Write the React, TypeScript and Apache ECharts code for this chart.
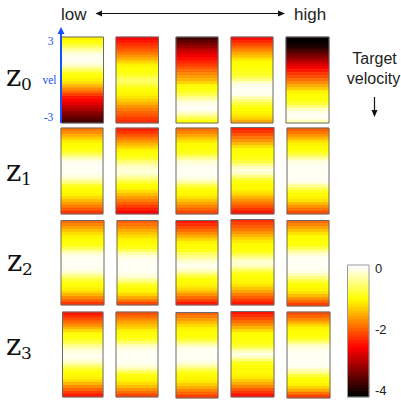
import React, { useEffect, useRef } from "react";
import * as echarts from "echarts";

const velocityLevels = ["3","2.8","2.6","2.4","2.2","2","1.8","1.6","1.4","1.2","1","0.8","0.6","0.4","0.2","0","-0.2","-0.4","-0.6","-0.8","-1","-1.2","-1.4","-1.6","-1.8","-2","-2.3","-2.6","-3"];

const z0p1 = [-1.05,-0.95,-0.8,-0.55,-0.3,-0.08,0.02,0.05,0.02,-0.1,-0.35,-0.65,-0.9,-0.97,-1.05,-1.2,-1.45,-1.7,-1.95,-2.2,-2.45,-2.6,-2.75,-2.95,-3.1,-3.3,-3.45,-3.6,-3.75];
const z0p2 = [-2.6,-2.45,-2.3,-2.15,-2.0,-1.85,-1.65,-1.45,-1.25,-1.05,-0.97,-0.95,-0.9,-0.75,-0.55,-0.6,-0.8,-0.95,-1.0,-1.05,-1.15,-1.3,-1.45,-1.65,-1.8,-1.95,-2.05,-2.2,-2.3];
const z0p3 = [-3.8,-3.6,-3.4,-3.2,-3.0,-2.8,-2.65,-2.5,-2.35,-2.2,-2.05,-1.9,-1.75,-1.6,-1.45,-1.25,-1.0,-0.95,-0.85,-0.65,-0.4,-0.15,0,0.05,0.05,-0.1,-0.35,-0.65,-0.95];
const z0p4 = [-2.55,-2.35,-2.15,-1.95,-1.75,-1.55,-1.35,-1.15,-1.0,-0.97,-0.93,-0.9,-0.85,-0.7,-0.45,-0.12,0.02,0.05,0.05,0.02,-0.2,-0.45,-0.7,-0.9,-0.98,-1.03,-1.1,-1.25,-1.5];
const z0p5 = [-4.15,-4.15,-4.1,-4.0,-3.8,-3.6,-3.4,-3.2,-3.0,-2.8,-2.6,-2.45,-2.25,-2.1,-1.9,-1.7,-1.5,-1.3,-1.05,-1.0,-0.95,-0.9,-0.75,-0.45,-0.15,0,0.05,0.02,-0.2];
const z1p1 = [-1.85,-1.7,-1.5,-1.3,-1.1,-1.0,-0.96,-0.9,-0.72,-0.42,-0.15,0,0.05,0.05,0.05,0.03,-0.05,-0.25,-0.5,-0.78,-0.95,-1.0,-1.05,-1.2,-1.4,-1.6,-1.8,-2.0,-2.25];
const z1p2 = [-2.4,-2.25,-2.05,-1.85,-1.65,-1.45,-1.25,-1.05,-0.97,-0.9,-0.75,-0.5,-0.28,-0.12,-0.05,-0.1,-0.3,-0.55,-0.8,-0.97,-1.03,-1.2,-1.4,-1.6,-1.8,-2.0,-2.2,-2.4,-2.6];
const z1p3 = [-1.9,-1.75,-1.55,-1.35,-1.15,-1.0,-0.97,-0.93,-0.85,-0.6,-0.3,-0.1,0,0.05,0.05,0.05,0.03,-0.1,-0.35,-0.65,-0.9,-1.0,-1.03,-1.15,-1.35,-1.55,-1.75,-1.95,-2.15];
const z1p4 = [-2.4,-2.25,-2.05,-1.85,-1.65,-1.4,-1.15,-1.0,-0.97,-0.93,-0.88,-0.7,-0.45,-0.15,-0.03,-0.15,-0.45,-0.75,-0.95,-1.0,-1.0,-1.1,-1.25,-1.45,-1.65,-1.85,-2.05,-2.25,-2.45];
const z1p5 = [-2.0,-1.85,-1.65,-1.45,-1.2,-1.05,-1.0,-0.95,-0.8,-0.55,-0.25,-0.05,0.03,0.05,0.05,0.05,0.05,0.05,-0.05,-0.3,-0.6,-0.85,-1.0,-1.05,-1.15,-1.4,-1.65,-1.85,-2.1];
const z2p1 = [-1.9,-1.75,-1.55,-1.35,-1.2,-1.05,-1.0,-0.95,-0.9,-0.65,-0.35,-0.1,0.03,0.05,0.05,0.05,0.03,-0.05,-0.25,-0.5,-0.75,-0.92,-1.0,-1.05,-1.2,-1.45,-1.7,-1.95,-2.25];
const z2p2 = [-2.0,-1.85,-1.7,-1.5,-1.35,-1.2,-1.05,-1.0,-0.95,-0.85,-0.55,-0.25,-0.05,0.03,0.05,0.05,0.05,0.05,0,-0.1,-0.35,-0.65,-0.9,-1.0,-1.05,-1.25,-1.5,-1.8,-2.15];
const z2p3 = [-2.45,-2.3,-2.1,-1.9,-1.7,-1.5,-1.25,-1.05,-1.0,-0.95,-0.85,-0.6,-0.4,-0.2,-0.03,0.03,-0.03,-0.2,-0.5,-0.8,-0.97,-1.0,-1.05,-1.2,-1.4,-1.65,-1.9,-2.15,-2.45];
const z2p4 = [-2.3,-2.15,-2.0,-1.85,-1.65,-1.45,-1.25,-1.1,-1.0,-0.97,-0.92,-0.75,-0.5,-0.25,-0.08,-0.12,-0.35,-0.65,-0.9,-0.98,-1.0,-1.05,-1.15,-1.35,-1.55,-1.8,-2.0,-2.2,-2.45];
const z2p5 = [-1.9,-1.75,-1.55,-1.35,-1.15,-1.0,-0.98,-0.95,-0.88,-0.65,-0.35,-0.1,0.02,0.05,0.05,0.05,0.05,-0.02,-0.2,-0.45,-0.72,-0.92,-1.0,-1.03,-1.15,-1.4,-1.65,-1.9,-2.2];
const z3p1 = [-2.45,-2.3,-2.1,-1.9,-1.7,-1.45,-1.2,-1.0,-0.95,-0.85,-0.65,-0.4,-0.2,-0.05,0.02,0.03,-0.05,-0.2,-0.5,-0.75,-0.95,-1.0,-1.05,-1.2,-1.45,-1.7,-1.95,-2.2,-2.45];
const z3p2 = [-2.1,-1.95,-1.75,-1.55,-1.4,-1.25,-1.05,-1.0,-0.95,-0.8,-0.5,-0.2,-0.03,0.03,0.05,0.05,0.05,0.03,-0.05,-0.25,-0.6,-0.9,-1.0,-1.05,-1.2,-1.4,-1.65,-1.9,-2.15];
const z3p3 = [-1.95,-1.8,-1.6,-1.4,-1.2,-1.05,-1.0,-0.97,-0.92,-0.7,-0.4,-0.12,0.02,0.05,0.05,0.05,0.03,-0.1,-0.35,-0.65,-0.9,-1.0,-1.03,-1.1,-1.3,-1.5,-1.75,-1.95,-2.2];
const z3p4 = [-2.45,-2.3,-2.1,-1.9,-1.7,-1.45,-1.2,-1.0,-0.97,-0.93,-0.9,-0.8,-0.55,-0.2,-0.02,-0.15,-0.5,-0.85,-0.98,-1.0,-1.0,-1.03,-1.1,-1.3,-1.5,-1.75,-2.0,-2.25,-2.5];
const z3p5 = [-2.1,-1.95,-1.75,-1.5,-1.25,-1.05,-1.0,-0.97,-0.92,-0.7,-0.4,-0.15,-0.02,0.03,0.05,0.05,0.05,0.05,0.02,-0.15,-0.4,-0.7,-0.95,-1.0,-1.05,-1.25,-1.5,-1.85,-2.2];

const panelValues = [
  z0p1, z0p2, z0p3, z0p4, z0p5,
  z1p1, z1p2, z1p3, z1p4, z1p5,
  z2p1, z2p2, z2p3, z2p4, z2p5,
  z3p1, z3p2, z3p3, z3p4, z3p5,
];

const colorbarLevels = [-4.2,-4.1,-4,-3.9,-3.8,-3.7,-3.6,-3.5,-3.4,-3.3,-3.2,-3.1,-3,-2.9,-2.8,-2.7,-2.6,-2.5,-2.4,-2.3,-2.2,-2.1,-2,-1.9,-1.8,-1.7,-1.6,-1.5,-1.4,-1.3,-1.2,-1.1,-1,-0.9,-0.8,-0.7,-0.6,-0.5,-0.4,-0.3,-0.2,-0.1,0,0.1];
const colorbarTickLabels = [0, -2, -4];
const colorbarTicks = [0, -0.5, -1, -1.5, -2, -2.5, -3, -3.5, -4];

const hotColors = ["#000000","#550000","#aa0000","#ff0000","#ff5500","#ffaa00","#ffff00","#ffff80","#ffffff"];

// [left, top, right, bottom] of each panel
const panelRects = [
  [61.5,37,103.5,123],[116,37,158.5,123],[176,37,218,123],[231,37,273,123],[286,37,329,123],
  [61,128,103,214],[116,128,158.5,214],[176,128,218,214],[231,127.5,274,214],[287,128,329,214],
  [61,220.5,104,305],[117,220.5,158,305],[176,220.5,218,305],[231,219.5,274,305],[287,220.5,329,306],
  [62.5,312,103,397],[116,312,158,397],[176,312.5,218,398],[231,311.5,274,397],[287,312,330,398],
];
const barRect = [347.5, 265, 369, 397];

const SANS = "Liberation Sans";
const SERIF = "Liberation Serif";
const MATH = "DejaVu Serif";
const BLUE = "#1450ff";

function txt(text: string, x: number, y: number, size: number, family: string, fill: string, align = "left") {
  return {
    type: "text",
    z: 120,
    style: { text, x, y, fill, align, verticalAlign: "middle", font: `${size}px "${family}"` },
  };
}

function zLabel(sub: string, x: number, y: number) {
  return [
    txt("z", x, y, 29, MATH, "#111111"),
    txt(sub, x + 15, y + 8, 17, MATH, "#111111"),
  ];
}

export default function App() {
  const ref = useRef<HTMLDivElement>(null);
  useEffect(() => {
    document.body.style.margin = "0";
    const chart = echarts.init(ref.current!, undefined, { renderer: "svg" });
    const grid: any[] = [], xAxis: any[] = [], yAxis: any[] = [], series: any[] = [], graphic: any[] = [];

    panelRects.forEach((r, i) => {
      grid.push({ left: r[0], top: r[1], width: r[2] - r[0], height: r[3] - r[1] });
      xAxis.push({ type: "category", gridIndex: i, data: [""], show: false });
      yAxis.push({ type: "category", gridIndex: i, data: velocityLevels, show: false, inverse: true });
      series.push({
        type: "heatmap",
        xAxisIndex: i,
        yAxisIndex: i,
        data: panelValues[i].map((v, k) => [0, k, v]),
        itemStyle: { borderWidth: 0 },
      });
      graphic.push({
        type: "rect",
        z: 100,
        shape: { x: r[0], y: r[1], width: r[2] - r[0], height: r[3] - r[1] },
        style: { fill: "none", stroke: "#6a6a6a", lineWidth: 1 },
      });
    });

    // colour bar
    const n = panelRects.length;
    grid.push({ left: barRect[0], top: barRect[1], width: barRect[2] - barRect[0], height: barRect[3] - barRect[1] });
    xAxis.push({ type: "category", gridIndex: n, data: [""], show: false });
    yAxis.push({ type: "category", gridIndex: n, data: colorbarLevels.map(String), show: false });
    yAxis.push({
      type: "value",
      gridIndex: n,
      position: "right",
      min: -4.2,
      max: 0.1,
      splitLine: { show: false },
      axisLine: { show: false },
      axisTick: { show: true, inside: true, length: 2, customValues: colorbarTicks, lineStyle: { color: "#888888" } },
      axisLabel: {
        show: true,
        customValues: colorbarTickLabels,
        margin: 6,
        color: "#222222",
        fontSize: 13,
        fontFamily: SANS,
      },
    });
    series.push({
      type: "heatmap",
      xAxisIndex: n,
      yAxisIndex: n,
      data: colorbarLevels.map((v, k) => [0, k, v]),
      itemStyle: { borderWidth: 0 },
    });
    graphic.push({
      type: "rect",
      z: 100,
      shape: { x: barRect[0], y: barRect[1], width: barRect[2] - barRect[0], height: barRect[3] - barRect[1] },
      style: { fill: "none", stroke: "#9a9a9a", lineWidth: 1 },
    });

    // header arrows and annotations
    graphic.push(
      txt("low", 61, 14, 17, SANS, "#222222"),
      txt("high", 294, 14, 17, SANS, "#222222"),
      { type: "line", z: 110, shape: { x1: 100, y1: 13.5, x2: 281, y2: 13.5 }, style: { stroke: "#111111", lineWidth: 1 } },
      { type: "polygon", z: 110, shape: { points: [[95.5, 13.5], [102, 10.5], [102, 16.5]] }, style: { fill: "#111111" } },
      { type: "polygon", z: 110, shape: { points: [[285, 13.5], [278, 10.5], [278, 16.5]] }, style: { fill: "#111111" } },
      txt("Target", 374.5, 58.5, 16, SANS, "#222222", "center"),
      txt("velocity", 373.5, 78, 16, SANS, "#222222", "center"),
      { type: "line", z: 110, shape: { x1: 374.5, y1: 97, x2: 374.5, y2: 112 }, style: { stroke: "#111111", lineWidth: 1.2 } },
      { type: "polygon", z: 110, shape: { points: [[374.5, 117], [371.5, 110], [377.5, 110]] }, style: { fill: "#111111" } },
      { type: "line", z: 110, shape: { x1: 61, y1: 123, x2: 61, y2: 32 }, style: { stroke: BLUE, lineWidth: 2 } },
      { type: "polygon", z: 110, shape: { points: [[61, 27], [57.5, 34], [64.5, 34]] }, style: { fill: BLUE } },
      txt("3", 50.5, 41, 11.5, SERIF, BLUE, "center"),
      txt("vel", 49.5, 80, 11.5, SERIF, BLUE, "center"),
      txt("-3", 48.5, 117, 11.5, SERIF, BLUE, "center"),
      ...zLabel("0", 6, 76),
      ...zLabel("1", 6, 171),
      ...zLabel("2", 7, 261),
      ...zLabel("3", 6, 345),
    );

    chart.setOption({
      animation: false,
      backgroundColor: "#ffffff",
      grid,
      xAxis,
      yAxis,
      series,
      graphic,
      visualMap: {
        show: false,
        type: "continuous",
        min: -4.2,
        max: 0.1,
        seriesIndex: series.map((_, i) => i),
        inRange: { color: hotColors },
      },
    });
    return () => chart.dispose();
  }, []);
  return <div ref={ref} style={{ width: 401, height: 400 }} />;
}
